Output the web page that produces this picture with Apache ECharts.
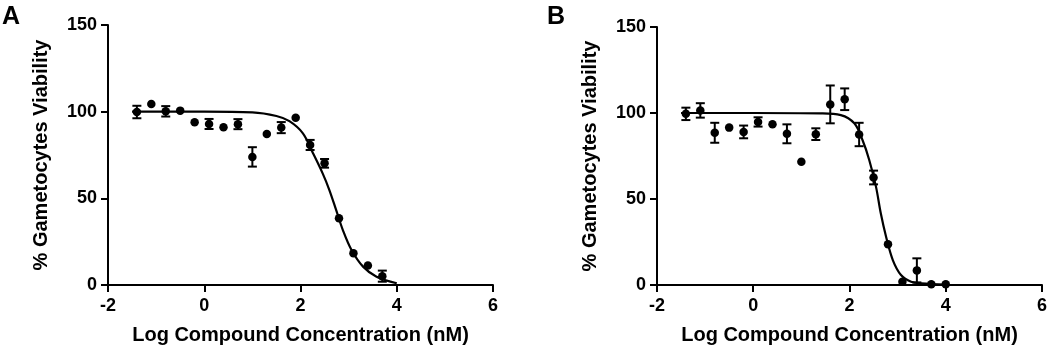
<!DOCTYPE html>
<html>
<head>
<meta charset="utf-8">
<script src="https://cdn.jsdelivr.net/npm/echarts@6/dist/echarts.min.js"></script>
<style>
  html, body { margin: 0; padding: 0; background: #fff; }
  #chart { width: 1050px; height: 353px; }
</style>
</head>
<body>
<div id="chart"></div>
<script>
// log concentration (nM) of each measured point
var log_conc_a = [-1.4, -1.1, -0.8, -0.5, -0.2, 0.1, 0.4, 0.7, 1.0, 1.3, 1.6, 1.9, 2.2, 2.5, 2.8, 3.1, 3.4, 3.7];
var viability_a = [99.8, 104.4, 100.2, 100.6, 93.9, 92.9, 91.0, 92.8, 73.9, 87.1, 90.8, 96.5, 80.8, 70.2, 38.5, 18.3, 11.2, 5.1];
var error_a = [3.6, 0, 3.0, 0, 0, 2.9, 0, 2.9, 5.6, 0, 3.2, 0, 2.9, 2.5, 0, 0, 0, 3.2];

var log_conc_b = [-1.4, -1.1, -0.8, -0.5, -0.2, 0.1, 0.4, 0.7, 1.0, 1.3, 1.6, 1.9, 2.2, 2.5, 2.8, 3.1, 3.4, 3.7, 4.0];
var viability_b = [99.5, 101.5, 88.5, 91.5, 89.0, 94.8, 93.4, 87.9, 71.7, 87.7, 105.0, 108.0, 87.5, 62.5, 23.7, 1.9, 8.5, 0.5, 0.4];
var error_b = [3.6, 4.2, 5.8, 0, 3.7, 2.7, 0, 5.5, 0, 3.4, 11.0, 6.3, 6.8, 4.0, 0, 0, 7.0, 0, 0];

// fitted curves
var curve_x_a = [-1.5, 0, 1.0, 1.5, 1.77, 2.05, 2.26, 2.46, 2.6, 2.74, 2.88, 3.06, 3.3, 3.58, 4.0];
var curve_y_a = [100, 100, 99.6, 97.5, 94.5, 87.5, 76, 64.4, 54.8, 43.3, 31.7, 20.2, 10.6, 4.8, 1.0];
var curve_x_b = [-1.5, 0, 1.4, 1.82, 2.1, 2.27, 2.41, 2.55, 2.65, 2.76, 2.9, 3.07, 3.28, 3.49, 4.0];
var curve_y_b = [100, 100, 99.8, 98.8, 94, 84.3, 72.7, 57.2, 41.7, 28.1, 14.5, 5.8, 1.9, 1.0, 0.2];

var x_ticks = [-2, 0, 2, 4, 6];
var y_ticks = [0, 50, 100, 150];

var font = 'Liberation Sans, Arial, sans-serif';

function zip(xs, ys) {
    var out = [];
    for (var i = 0; i < xs.length; i++) out.push([xs[i], ys[i]]);
    return out;
}

function error_data(xs, ys, es) {
    var out = [];
    for (var i = 0; i < xs.length; i++) {
        if (es[i] > 0) out.push([xs[i], ys[i] - es[i], ys[i] + es[i]]);
    }
    return out;
}

function render_error(params, api) {
    var lo = api.coord([api.value(0), api.value(1)]);
    var hi = api.coord([api.value(0), api.value(2)]);
    var w = 4.5;
    var style = { stroke: '#000', lineWidth: 2 };
    return {
        type: 'group',
        children: [
            { type: 'line', shape: { x1: lo[0], y1: lo[1], x2: hi[0], y2: hi[1] }, style: style },
            { type: 'line', shape: { x1: lo[0] - w, y1: lo[1], x2: lo[0] + w, y2: lo[1] }, style: style },
            { type: 'line', shape: { x1: hi[0] - w, y1: hi[1], x2: hi[0] + w, y2: hi[1] }, style: style }
        ]
    };
}

function x_axis(idx) {
    return {
        type: 'value', gridIndex: idx,
        min: x_ticks[0], max: x_ticks[x_ticks.length - 1], interval: 2,
        name: 'Log Compound Concentration (nM)',
        nameLocation: 'middle', nameGap: 40,
        nameTextStyle: { fontFamily: font, fontWeight: 'bold', fontSize: 20, color: '#000' },
        axisLine: { onZero: false, lineStyle: { color: '#000', width: 2 } },
        axisTick: { length: 7, lineStyle: { color: '#000', width: 2 } },
        axisLabel: { fontFamily: font, fontWeight: 'bold', fontSize: 18, color: '#000', margin: 12 },
        splitLine: { show: false }
    };
}

function y_axis(idx) {
    return {
        type: 'value', gridIndex: idx,
        min: y_ticks[0], max: y_ticks[y_ticks.length - 1], interval: 50,
        name: '% Gametocytes Viability',
        nameLocation: 'middle', nameGap: 57,
        nameTextStyle: { fontFamily: font, fontWeight: 'bold', fontSize: 20, color: '#000' },
        axisLine: { show: true, onZero: false, lineStyle: { color: '#000', width: 2 } },
        axisTick: { show: true, length: 7, lineStyle: { color: '#000', width: 2 } },
        axisLabel: { fontFamily: font, fontWeight: 'bold', fontSize: 18, color: '#000', margin: 11 },
        splitLine: { show: false }
    };
}

function panel_series(idx, cx, cy, xs, ys, es) {
    return [
        {
            type: 'line', xAxisIndex: idx, yAxisIndex: idx,
            data: zip(cx, cy), smooth: 0.35, showSymbol: false,
            lineStyle: { color: '#000', width: 2.2 }, z: 2
        },
        {
            type: 'custom', xAxisIndex: idx, yAxisIndex: idx,
            data: error_data(xs, ys, es), renderItem: render_error, z: 3
        },
        {
            type: 'scatter', xAxisIndex: idx, yAxisIndex: idx,
            data: zip(xs, ys), symbol: 'circle', symbolSize: 8.5,
            itemStyle: { color: '#000', opacity: 1 }, z: 4
        }
    ];
}

var chart = echarts.init(document.getElementById('chart'), null, { renderer: 'canvas' });
chart.setOption({
    animation: false,
    backgroundColor: '#fff',
    title: [
        { text: 'A', left: 2, top: 5, padding: 0, textStyle: { fontFamily: font, fontWeight: 'bold', fontSize: 25, color: '#000' } },
        { text: 'B', left: 547, top: 5, padding: 0, textStyle: { fontFamily: font, fontWeight: 'bold', fontSize: 25, color: '#000' } }
    ],
    grid: [
        { left: 108, top: 25, width: 385, height: 260 },
        { left: 657, top: 27, width: 385, height: 258 }
    ],
    xAxis: [x_axis(0), x_axis(1)],
    yAxis: [y_axis(0), y_axis(1)],
    series: panel_series(0, curve_x_a, curve_y_a, log_conc_a, viability_a, error_a)
        .concat(panel_series(1, curve_x_b, curve_y_b, log_conc_b, viability_b, error_b))
});
</script>
</body>
</html>
